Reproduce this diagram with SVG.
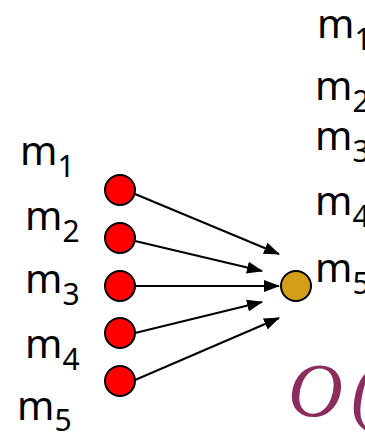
<svg xmlns="http://www.w3.org/2000/svg" width="365" height="435" viewBox="0 0 365 435">
<style>
.lbl{font-family:"Noto Sans","DejaVu Sans",sans-serif;font-size:40px;fill:#000}
.sub{font-size:30px}
.red{fill:#ff0000;stroke:#000;stroke-width:2}
.gold{fill:#d39e1a;stroke:#000;stroke-width:2}
.edge{stroke:#000;stroke-width:2;fill:none;marker-end:url(#ah)}
</style>
<defs>
<marker id="ah" markerWidth="8" markerHeight="6" refX="7.5" refY="3" orient="auto" markerUnits="strokeWidth">
<path d="M0,0 L8,3 L0,6 Z" fill="#000"/>
</marker>
</defs>
<rect width="365" height="435" fill="#fff"/>
<g id="labels-left">
<text class="lbl" x="20" y="165">m<tspan class="sub" dy="12">1</tspan></text>
<text class="lbl" x="25" y="230">m<tspan class="sub" dy="12">2</tspan></text>
<text class="lbl" x="25" y="293">m<tspan class="sub" dy="12">3</tspan></text>
<text class="lbl" x="25" y="358">m<tspan class="sub" dy="12">4</tspan></text>
<text class="lbl" x="17" y="420">m<tspan class="sub" dy="11">5</tspan></text>
</g>
<g id="labels-right">
<text class="lbl" x="317" y="38">m<tspan class="sub" dy="12">1</tspan></text>
<text class="lbl" x="315" y="100">m<tspan class="sub" dy="12">2</tspan></text>
<text class="lbl" x="315" y="150">m<tspan class="sub" dy="12">3</tspan></text>
<text class="lbl" x="315" y="215">m<tspan class="sub" dy="12">4</tspan></text>
<text class="lbl" x="315" y="282">m<tspan class="sub" dy="12">5</tspan></text>
</g>
<g id="connectors">
<line class="edge" x1="135" y1="194" x2="279" y2="254"/>
<line class="edge" x1="135" y1="241" x2="262" y2="271"/>
<line class="edge" x1="136" y1="286" x2="279" y2="286"/>
<line class="edge" x1="135" y1="333" x2="262" y2="302"/>
<line class="edge" x1="135" y1="380" x2="279" y2="318"/>
</g>
<g id="n1"><circle class="red" cx="120" cy="190" r="15"/></g>
<g id="n2"><circle class="red" cx="120" cy="238" r="15"/></g>
<g id="n3"><circle class="red" cx="120" cy="286" r="15"/></g>
<g id="n4"><circle class="red" cx="120" cy="333" r="15"/></g>
<g id="n5"><circle class="red" cx="120" cy="381" r="15"/></g>
<g id="sink"><circle class="gold" cx="296" cy="286" r="15"/></g>
<g id="bigO">
<text x="288" y="416" font-family="'Liberation Serif',serif" font-style="italic" font-size="76" letter-spacing="8" fill="#8b2d5c">O(</text>
</g>
</svg>
